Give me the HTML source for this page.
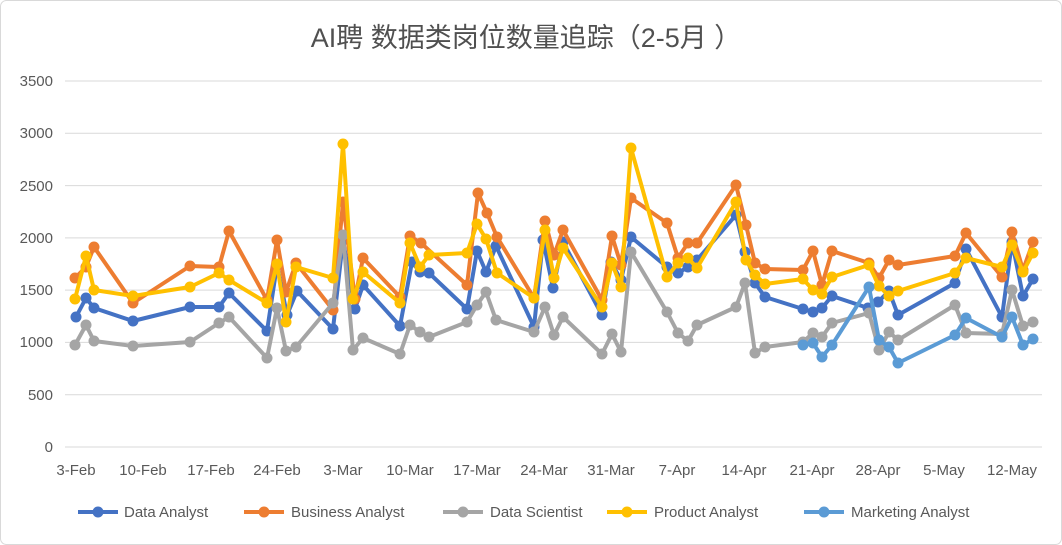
<!DOCTYPE html>
<html><head><meta charset="utf-8"><style>
body{margin:0;background:#fff;}
svg{display:block;font-family:"Liberation Sans","Noto Sans CJK SC",sans-serif;}
</style></head><body>
<svg id="s" width="1062" height="545" viewBox="0 0 1062 545" xmlns="http://www.w3.org/2000/svg">
<rect x="0.5" y="0.5" width="1061" height="544" rx="6" fill="#fff" stroke="#d9d9d9"/>
<text x="526" y="47" text-anchor="middle" font-size="27" fill="#505050">AI聘 数据类岗位数量追踪（2-5月 ）</text>
<g stroke="#d9d9d9" stroke-width="1">
<line x1="65" x2="1042" y1="81" y2="81"/><line x1="65" x2="1042" y1="133.3" y2="133.3"/>
<line x1="65" x2="1042" y1="185.6" y2="185.6"/><line x1="65" x2="1042" y1="237.9" y2="237.9"/>
<line x1="65" x2="1042" y1="290.1" y2="290.1"/><line x1="65" x2="1042" y1="342.4" y2="342.4"/>
<line x1="65" x2="1042" y1="394.7" y2="394.7"/><line x1="65" x2="1042" y1="447" y2="447"/>
</g>
<g font-size="15" fill="#595959" text-anchor="end">
<text x="53" y="86">3500</text><text x="53" y="138">3000</text><text x="53" y="191">2500</text>
<text x="53" y="243">2000</text><text x="53" y="295">1500</text><text x="53" y="347">1000</text>
<text x="53" y="400">500</text><text x="53" y="452">0</text>
</g>
<g font-size="15" fill="#595959" text-anchor="middle">
<text x="76" y="475">3-Feb</text><text x="143" y="475">10-Feb</text><text x="211" y="475">17-Feb</text>
<text x="277" y="475">24-Feb</text><text x="343" y="475">3-Mar</text><text x="410" y="475">10-Mar</text>
<text x="477" y="475">17-Mar</text><text x="544" y="475">24-Mar</text><text x="611" y="475">31-Mar</text>
<text x="677" y="475">7-Apr</text><text x="744" y="475">14-Apr</text><text x="812" y="475">21-Apr</text>
<text x="878" y="475">28-Apr</text><text x="944" y="475">5-May</text><text x="1012" y="475">12-May</text>
</g>
<g id="series"></g>
<g font-size="15" fill="#595959">
<line x1="78" x2="118" y1="512" y2="512" stroke="#4472C4" stroke-width="4"/><circle cx="98" cy="512" r="5.5" fill="#4472C4"/><text x="124" y="517">Data Analyst</text>
<line x1="244" x2="284" y1="512" y2="512" stroke="#ED7D31" stroke-width="4"/><circle cx="264" cy="512" r="5.5" fill="#ED7D31"/><text x="291" y="517">Business Analyst</text>
<line x1="443" x2="483" y1="512" y2="512" stroke="#A5A5A5" stroke-width="4"/><circle cx="463" cy="512" r="5.5" fill="#A5A5A5"/><text x="490" y="517">Data Scientist</text>
<line x1="607" x2="647" y1="512" y2="512" stroke="#FFC000" stroke-width="4"/><circle cx="627" cy="512" r="5.5" fill="#FFC000"/><text x="654" y="517">Product Analyst</text>
<line x1="804" x2="844" y1="512" y2="512" stroke="#5B9BD5" stroke-width="4"/><circle cx="824" cy="512" r="5.5" fill="#5B9BD5"/><text x="851" y="517">Marketing Analyst</text>
</g>
</svg>
<script>
var S=[
["#4472C4",[[76,317],[86,298],[94,308],[133,321],[190,307],[219,307],[229,293],[267,331],[277,265],[287,315],[297,291],[333,329],[343,240],[355,309],[363,285],[400,326],[412,262],[420,272],[429,273],[467,309],[477,251],[486,272],[496,246],[534,327],[543,240],[553,288],[563,242],[602,315],[611,262],[621,280],[631,237],[667,267],[678,273],[688,267],[697,260],[736,215],[745,252],[755,283],[765,297],[803,309],[813,312],[822,308],[832,296],[868,308],[878,302],[889,291],[898,315],[955,283],[966,249],[1002,317],[1012,242],[1023,296],[1033,279]]],
["#ED7D31",[[75,278],[86,267],[94,247],[133,303],[190,266],[219,267],[229,231],[267,300],[277,240],[286,292],[296,263],[333,310],[343,202],[355,299],[363,258],[400,297],[410,236],[421,243],[467,285],[478,193],[487,213],[497,237],[534,298],[545,221],[554,255],[563,230],[602,300],[612,236],[621,265],[631,198],[667,223],[678,258],[688,243],[697,243],[736,185],[746,225],[755,263],[765,269],[803,270],[813,251],[822,285],[832,251],[869,263],[879,278],[889,260],[898,265],[955,256],[966,233],[1002,277],[1012,232],[1023,270],[1033,242]]],
["#A5A5A5",[[75,345],[86,325],[94,341],[133,346],[190,342],[219,323],[229,317],[267,358],[277,308],[286,351],[296,347],[333,303],[343,235],[353,350],[363,338],[400,354],[410,325],[420,332],[429,337],[467,322],[477,305],[486,292],[496,320],[534,332],[545,307],[554,335],[563,317],[602,354],[612,334],[621,352],[631,252],[667,312],[678,333],[688,341],[697,325],[736,307],[745,283],[755,353],[765,347],[803,342],[813,333],[822,337],[832,323],[869,313],[879,350],[889,332],[898,340],[955,305],[966,333],[1002,334],[1012,290],[1023,326],[1033,322]]],
["#FFC000",[[75,299],[86,256],[94,290],[133,296],[190,287],[219,273],[229,280],[267,303],[277,264],[286,322],[296,267],[333,278],[343,144],[353,299],[363,272],[400,303],[410,243],[420,267],[429,255],[467,253],[477,224],[486,239],[497,273],[534,298],[545,230],[554,278],[563,248],[602,307],[612,263],[621,287],[631,148],[667,277],[678,263],[688,258],[697,268],[736,202],[746,260],[755,275],[765,284],[803,279],[813,290],[822,294],[832,277],[869,265],[879,286],[889,296],[898,291],[955,273],[966,258],[1002,267],[1012,245],[1023,272],[1033,253]]],
["#5B9BD5",[[803,345],[813,343],[822,357],[832,345],[869,287],[879,340],[889,347],[898,363],[955,335],[966,318],[1002,337],[1012,317],[1023,345],[1033,339]]]
];
var g=document.getElementById('series'),h='';
S.forEach(function(s){h+='<polyline fill="none" stroke="'+s[0]+'" stroke-width="4" stroke-linejoin="round" points="'+s[1].map(function(p){return p.join(',')}).join(' ')+'"/>';
s[1].forEach(function(p){h+='<circle cx="'+p[0]+'" cy="'+p[1]+'" r="5.5" fill="'+s[0]+'"/>';});});
g.innerHTML=h;
</script>
</body></html>
